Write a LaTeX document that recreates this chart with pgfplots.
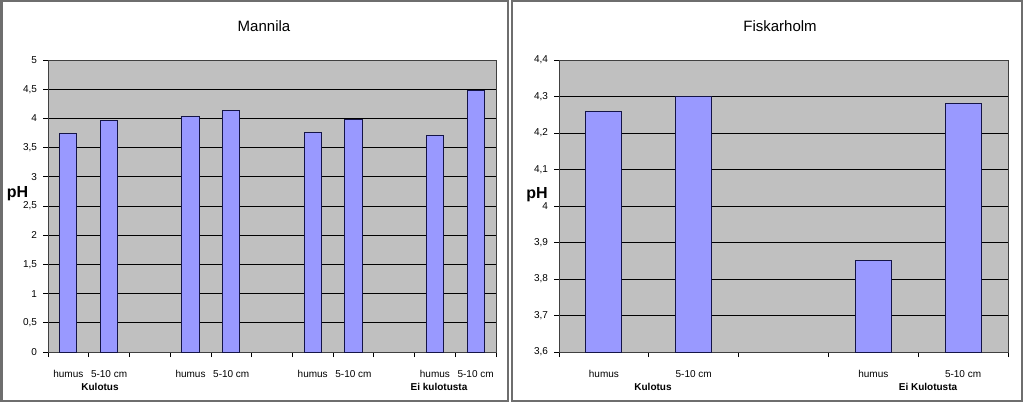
\documentclass[border=0pt]{standalone}
\usepackage{pgfplots}
\pgfplotsset{compat=1.18}
\usepackage{fontspec}
\setmainfont{Liberation Sans}

\definecolor{plotbg}{RGB}{192,192,192}
\definecolor{barfill}{RGB}{153,153,255}
\definecolor{baredge}{RGB}{20,20,70}
\definecolor{frame}{RGB}{110,110,110}

\pgfplotsset{
  phchart/.style={
    scale only axis, height=219pt,
    ybar, axis background/.style={fill=plotbg},
    axis line style={draw=black!75},
    ymajorgrids, grid style={black, line width=0.6pt},
    tick align=outside, xtick pos=bottom, ytick pos=left,
    major tick length=3.75pt,
    xticklabels={},
    tick style={black, line width=0.6pt},
    ticklabel style={font=\fontsize{7.5}{9}\selectfont},
    /pgf/number format/assume math mode=true,
    /pgf/number format/use comma,
    extra x tick style={major tick length=0pt, xticklabel style={yshift=-10pt}},
    yticklabel style={xshift=-1pt},
  },
  phbar/.style={fill=barfill, draw=baredge, line width=0.75pt},
}

\begin{document}
\begin{tikzpicture}
\useasboundingbox (0pt,0pt) rectangle (767.25pt,302.25pt);
\draw[frame, line width=1.5pt] (1.125pt,1.5pt) rectangle (381pt,301.125pt);
\draw[frame, line width=1.5pt] (384pt,1.5pt) rectangle (766.125pt,301.125pt);

% Mannila
\begin{axis}[phchart, at={(36pt,38.25pt)}, anchor=south west, width=336pt,
  xmin=-0.5, xmax=10.5, ymin=0, ymax=5,
  ytick={0,0.5,1,1.5,2,2.5,3,3.5,4,4.5,5},
  xtick={-0.5,0.5,...,10.5},
  extra x ticks={0,1,3,4,6,7,9,10},
  extra x tick labels={humus,5-10 cm,humus,5-10 cm,humus,5-10 cm,humus,5-10 cm},
  bar width=0.42]
\addplot[phbar] coordinates {(0,3.75) (1,3.96) (3,4.04) (4,4.14) (6,3.76) (7,3.98) (9,3.70) (10,4.47)};
\end{axis}

% Fiskarholm
\begin{axis}[phchart, at={(419.25pt,38.25pt)}, anchor=south west, width=336.75pt,
  xmin=-0.5, xmax=4.5, ymin=3.6, ymax=4.4,
  ytick={3.6,3.7,3.8,3.9,4,4.1,4.2,4.3,4.4},
  xtick={-0.5,0.5,...,4.5},
  extra x ticks={0,1,3,4},
  extra x tick labels={humus,5-10 cm,humus,5-10 cm},
  bar width=0.4]
\addplot[phbar] coordinates {(0,4.26) (1,4.30) (3,3.85) (4,4.28)};
\end{axis}

\node[font=\fontsize{11.25}{13}\selectfont] at (198pt,282.75pt) {Mannila};
\node[font=\fontsize{11.25}{13}\selectfont] at (585pt,282.75pt) {Fiskarholm};
\node[font=\fontsize{12}{14}\selectfont\bfseries] at (13.125pt,156.75pt) {pH};
\node[font=\fontsize{12}{14}\selectfont\bfseries] at (402.75pt,156pt) {pH};
\node[font=\fontsize{7.5}{9}\selectfont\bfseries] at (75pt,12pt) {Kulotus};
\node[font=\fontsize{7.5}{9}\selectfont\bfseries] at (329.25pt,12pt) {Ei kulotusta};
\node[font=\fontsize{7.5}{9}\selectfont\bfseries] at (489.75pt,12pt) {Kulotus};
\node[font=\fontsize{7.5}{9}\selectfont\bfseries] at (696pt,12pt) {Ei Kulotusta};
\end{tikzpicture}
\end{document}
